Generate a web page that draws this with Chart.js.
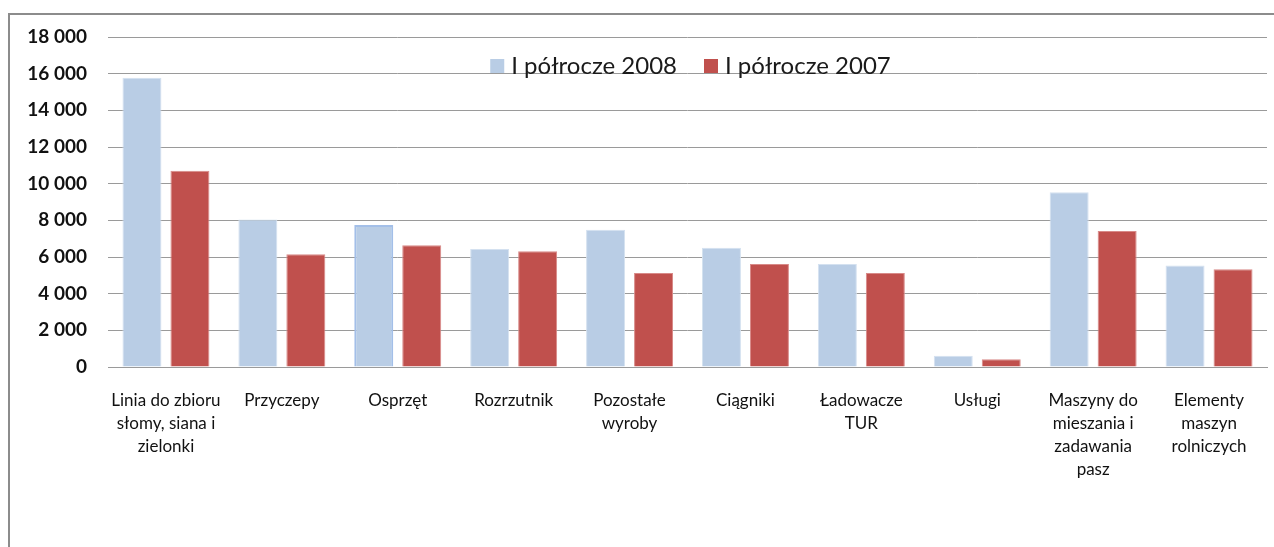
<!DOCTYPE html>
<html>
<head>
<meta charset="utf-8">
<script src="https://cdn.jsdelivr.net/npm/chart.js@4"></script>
<style>
  html, body { margin: 0; padding: 0; background: #fff; }
  #frame { position: absolute; left: 8px; top: 13px; width: 1400px; height: 700px;
           border-left: 2px solid #8c8c8c; border-top: 2px solid #8c8c8c; }
  #wrap { position: absolute; left: 0; top: 0; width: 1274px; height: 547px; }
</style>
</head>
<body>
<div id="frame"></div>
<div id="wrap"><canvas id="c" width="1274" height="547"></canvas></div>
<script>
const categories = [
  ['Linia do zbioru', 'słomy, siana i', 'zielonki'],
  'Przyczepy',
  'Osprzęt',
  'Rozrzutnik',
  ['Pozostałe', 'wyroby'],
  'Ciągniki',
  ['Ładowacze', 'TUR'],
  'Usługi',
  ['Maszyny do', 'mieszania i', 'zadawania', 'pasz'],
  ['Elementy', 'maszyn', 'rolniczych']
];
const seriesNames = ['I półrocze 2008', 'I półrocze 2007'];
const values2008 = [15780, 8050, 7750, 6430, 7490, 6510, 5620, 620, 9530, 5530];
const values2007 = [10700, 6150, 6640, 6310, 5130, 5620, 5130, 420, 7420, 5330];
const seriesColors = ['#B9CDE5', '#C0504D'];
const yMin = 0, yMax = 18000, yStep = 2000;

function fmt(v) { return String(v).replace(/\B(?=(\d{3})+(?!\d))/g, ' '); }

// Legend drawn inside the plot area (over the gridlines), like the original
const overlayLegend = {
  id: 'overlayLegend',
  afterDatasetsDraw(chart) {
    const ctx = chart.ctx;
    const area = chart.chartArea;
    const font = '24px Lato';
    const box = 14, gapBoxText = 7, gapItems = 27;
    ctx.save();
    ctx.font = font;
    const items = chart.data.datasets.map(ds => ({
      text: ds.label, color: ds.backgroundColor, w: ctx.measureText(ds.label).width
    }));
    let total = 0;
    items.forEach((it, i) => { total += box + gapBoxText + it.w + (i < items.length - 1 ? gapItems : 0); });
    const cx = (area.left + area.right) / 2 + 3;
    let x = cx - total / 2;
    const baseline = area.top + 37;
    items.forEach(it => {
      ctx.fillStyle = it.color;
      ctx.fillRect(x, baseline - 15, box, box);
      x += box + gapBoxText;
      ctx.fillStyle = '#1a1a1a';
      ctx.textBaseline = 'alphabetic';
      ctx.textAlign = 'left';
      ctx.fillText(it.text, x, baseline);
      x += it.w + gapItems;
    });
    ctx.restore();
  }
};

new Chart(document.getElementById('c'), {
  type: 'bar',
  data: {
    labels: categories,
    datasets: [
      {
        label: seriesNames[0],
        data: values2008,
        backgroundColor: seriesColors[0],
        borderColor: (ctx) => ctx.dataIndex === 2 ? '#A3BFE8' : '#D4E1F0',
        borderWidth: (ctx) => ctx.dataIndex === 2 ? 2 : 1
      },
      {
        label: seriesNames[1],
        data: values2007,
        backgroundColor: seriesColors[1],
        borderColor: '#D88A88',
        borderWidth: 1
      }
    ]
  },
  options: {
    responsive: false,
    animation: false,
    events: [],
    layout: { padding: { top: 37, right: 7, left: 0, bottom: 0 } },
    datasets: { bar: { categoryPercentage: 0.828, barPercentage: 0.8125 } },
    scales: {
      x: {
        grid: { display: false, drawTicks: false },
        border: { display: true, color: '#9a9a9a', width: 1 },
        ticks: {
          autoSkip: false, maxRotation: 0, minRotation: 0, padding: 22,
          color: '#111',
          font: { family: 'Lato', size: 17, lineHeight: '23px' }
        },
        afterFit(scale) { scale.height = 180; }
      },
      y: {
        min: yMin, max: yMax,
        grid: { color: '#9a9a9a', lineWidth: 1, drawTicks: false },
        border: { display: false },
        ticks: {
          stepSize: yStep, padding: 21, color: '#111',
          font: { family: 'Lato', size: 19, weight: 'bold' },
          callback: (v) => fmt(v)
        },
        afterFit(scale) { scale.width = 108; }
      }
    },
    plugins: {
      tooltip: { enabled: false },
      legend: { display: false }
    }
  },
  plugins: [overlayLegend]
});
</script>
</body>
</html>
